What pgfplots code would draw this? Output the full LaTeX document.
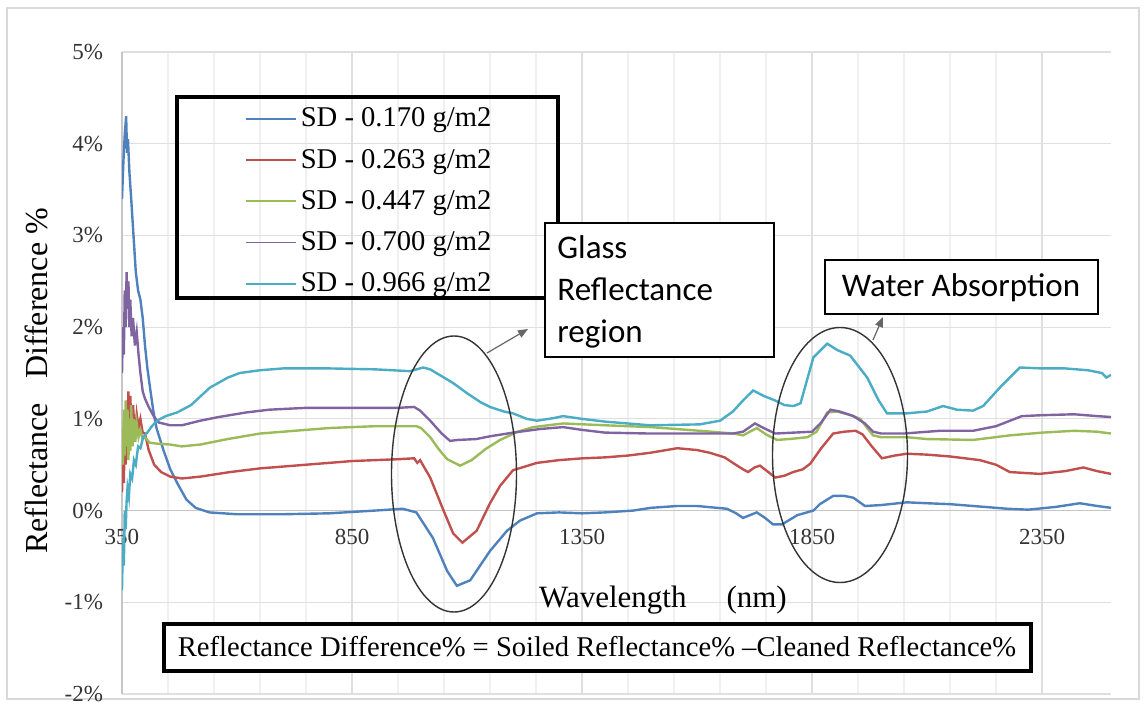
\documentclass[border=0pt]{standalone}
\usepackage{fontspec}
\setmainfont{Liberation Serif}
\newfontfamily\calibri{Carlito}
\usepackage{pgfplots}
\pgfplotsset{compat=1.18}
\usetikzlibrary{arrows.meta}
\definecolor{sBlue}{HTML}{4F81BD}
\definecolor{sRed}{HTML}{C0504D}
\definecolor{sGreen}{HTML}{9BBB59}
\definecolor{sPurple}{HTML}{8064A2}
\definecolor{sCyan}{HTML}{4BACC6}
\begin{document}
\begin{tikzpicture}
\begin{scope}[shift={(-61pt,347pt)}, x=0.5pt, y=-0.5pt]
\path[use as bounding box] (0,0) rectangle (1145,704);
\draw[gray!30, line width=0.6pt] (7,8) rectangle (1139,699);
\end{scope}
\begin{axis}[
  at={(0pt,0pt)}, anchor=south west,
  scale only axis, width=494.5pt, height=321pt,
  xmin=350, xmax=2500, ymin=-2, ymax=5,
  axis x line=middle, axis y line=left,
  axis line style={-, draw=gray!45, line width=0.6pt},
  hide obscured x ticks=false, hide obscured y ticks=false,
  xtick={350,850,1350,1850,2350},
  xticklabels={350,850,1350,1850,2350},
  minor x tick num=4,
  ytick={-2,-1,0,1,2,3,4,5},
  yticklabels={-2\%,-1\%,0\%,1\%,2\%,3\%,4\%,5\%},
  major tick length=0pt, minor tick length=0pt,
  xmajorgrids, xminorgrids, ymajorgrids,
  major grid style={draw=gray!25, line width=0.6pt},
  minor grid style={draw=gray!12, line width=0.6pt},
  /pgf/number format/assume math mode=true,
  tick label style={font=\fontsize{11.5}{13}\selectfont, text=black!80},
  xticklabel style={yshift=-6pt},
  yticklabel style={xshift=-6pt},
  legend style={draw=none, fill=none, at={(0.124,0.92)}, anchor=north west,
    font=\fontsize{14.3}{17}\selectfont, row sep=5.6pt, inner sep=0pt},
  legend cell align=left,
  legend image code/.code={\draw[#1, line width=0.9pt] (0pt,0pt) -- (25pt,0pt);},
]
\addplot[sBlue, line width=1.2pt] coordinates {
(350,3.4)(353,3.8)(356,4.1)(359,4.3)(361,3.9)(363,4.05)(366,3.7)(370,3.4)(375,3.0)(380,2.6)(385,2.4)(390,2.3)(395,2.1)(400,1.8)(405,1.56)(412,1.3)(418,1.09)(425,0.9)(440,0.66)(455,0.45)(470,0.3)(490,0.12)(510,0.03)(540,-0.02)(600,-0.04)(700,-0.04)(800,-0.03)(900,0.0)(960,0.02)(990,-0.02)(1026,-0.3)(1057,-0.66)(1078,-0.82)(1107,-0.76)(1150,-0.44)(1187,-0.22)(1215,-0.11)(1252,-0.03)(1300,-0.02)(1350,-0.03)(1400,-0.02)(1461,0.0)(1500,0.03)(1557,0.05)(1600,0.05)(1665,0.02)(1685,-0.03)(1700,-0.08)(1715,-0.05)(1730,-0.02)(1748,-0.08)(1765,-0.15)(1785,-0.15)(1818,-0.05)(1853,0.0)(1867,0.07)(1896,0.16)(1920,0.16)(1940,0.14)(1965,0.05)(2000,0.06)(2056,0.09)(2100,0.08)(2150,0.07)(2200,0.05)(2250,0.03)(2274,0.02)(2320,0.01)(2380,0.04)(2432,0.08)(2470,0.05)(2500,0.03)
};
\addplot[sRed, line width=1.2pt] coordinates {
(350,0.2)(352,0.6)(354,0.3)(356,0.9)(358,0.5)(360,1.2)(362,0.8)(364,1.3)(366,0.9)(368,1.25)(371,0.85)(374,1.15)(378,0.8)(382,1.05)(386,0.9)(390,1.0)(395,0.85)(400,0.84)(408,0.66)(420,0.5)(435,0.42)(455,0.37)(480,0.35)(520,0.37)(585,0.42)(650,0.46)(750,0.5)(850,0.54)(950,0.56)(985,0.57)(992,0.52)(998,0.55)(1020,0.36)(1049,0.0)(1070,-0.25)(1090,-0.35)(1121,-0.22)(1150,0.08)(1172,0.27)(1200,0.44)(1252,0.52)(1300,0.55)(1352,0.57)(1400,0.58)(1450,0.6)(1498,0.63)(1557,0.68)(1600,0.66)(1628,0.63)(1660,0.58)(1678,0.52)(1700,0.45)(1711,0.42)(1725,0.47)(1737,0.49)(1755,0.42)(1770,0.36)(1790,0.38)(1809,0.42)(1830,0.45)(1846,0.51)(1870,0.68)(1896,0.84)(1920,0.86)(1945,0.87)(1960,0.83)(1980,0.7)(2002,0.57)(2030,0.6)(2056,0.62)(2100,0.61)(2150,0.59)(2215,0.55)(2250,0.5)(2280,0.42)(2345,0.4)(2400,0.43)(2440,0.47)(2470,0.43)(2500,0.4)
};
\addplot[sGreen, line width=1.2pt] coordinates {
(350,0.9)(352,0.5)(354,1.1)(356,0.6)(358,1.2)(360,0.7)(362,1.1)(364,0.55)(366,1.0)(368,0.65)(370,1.15)(373,0.7)(376,1.0)(379,0.75)(382,0.95)(386,0.8)(390,0.88)(395,0.78)(400,0.8)(410,0.74)(426,0.73)(455,0.72)(480,0.7)(520,0.72)(580,0.78)(650,0.84)(700,0.86)(800,0.9)(900,0.92)(990,0.92)(1000,0.9)(1020,0.8)(1040,0.66)(1057,0.56)(1085,0.49)(1110,0.55)(1140,0.67)(1172,0.77)(1210,0.86)(1244,0.91)(1309,0.95)(1400,0.93)(1500,0.91)(1606,0.87)(1680,0.84)(1700,0.82)(1715,0.86)(1730,0.9)(1750,0.83)(1774,0.77)(1800,0.78)(1840,0.8)(1860,0.86)(1883,1.07)(1905,1.08)(1935,1.04)(1955,1.0)(1970,0.9)(1983,0.82)(2000,0.8)(2056,0.8)(2100,0.78)(2200,0.77)(2280,0.82)(2350,0.85)(2420,0.87)(2470,0.86)(2500,0.84)
};
\addplot[sPurple, line width=1.2pt] coordinates {
(350,1.5)(352,2.0)(354,1.7)(356,2.4)(358,2.0)(360,2.6)(362,2.2)(364,2.5)(366,2.0)(368,2.3)(371,1.9)(374,2.1)(378,1.8)(382,1.95)(386,1.7)(390,1.5)(395,1.3)(400,1.22)(408,1.13)(420,1.02)(430,0.96)(455,0.93)(480,0.93)(520,0.98)(560,1.02)(620,1.07)(670,1.1)(750,1.12)(850,1.12)(950,1.12)(985,1.13)(998,1.09)(1020,0.98)(1045,0.84)(1063,0.76)(1080,0.77)(1120,0.78)(1150,0.81)(1200,0.85)(1260,0.89)(1309,0.91)(1350,0.88)(1400,0.85)(1498,0.84)(1600,0.84)(1678,0.84)(1700,0.86)(1726,0.95)(1745,0.9)(1770,0.84)(1810,0.85)(1850,0.86)(1870,0.96)(1890,1.1)(1910,1.08)(1940,1.03)(1965,0.95)(1983,0.86)(2000,0.84)(2050,0.84)(2128,0.87)(2200,0.87)(2250,0.92)(2306,1.03)(2350,1.04)(2420,1.05)(2470,1.03)(2500,1.02)
};
\addplot[sCyan, line width=1.2pt] coordinates {
(350,-0.87)(352,-0.3)(354,-0.6)(356,0.0)(358,-0.2)(360,0.1)(362,0.25)(365,0.15)(368,0.4)(372,0.35)(376,0.55)(380,0.5)(385,0.7)(390,0.68)(396,0.8)(405,0.85)(415,0.92)(426,0.98)(445,1.03)(470,1.07)(500,1.15)(541,1.34)(580,1.45)(606,1.5)(650,1.53)(700,1.55)(800,1.55)(900,1.54)(976,1.52)(1005,1.56)(1020,1.54)(1040,1.48)(1070,1.39)(1100,1.28)(1130,1.18)(1150,1.13)(1180,1.08)(1200,1.06)(1230,1.0)(1252,0.98)(1290,1.01)(1309,1.03)(1350,1.0)(1400,0.97)(1498,0.93)(1606,0.94)(1650,0.98)(1678,1.08)(1700,1.2)(1722,1.31)(1745,1.25)(1770,1.2)(1790,1.15)(1810,1.14)(1825,1.17)(1839,1.42)(1853,1.67)(1883,1.82)(1905,1.75)(1933,1.69)(1970,1.45)(1995,1.2)(2013,1.06)(2056,1.06)(2100,1.08)(2135,1.14)(2165,1.1)(2200,1.09)(2222,1.14)(2260,1.35)(2302,1.56)(2350,1.55)(2400,1.55)(2450,1.53)(2480,1.5)(2490,1.45)(2500,1.48)
};
\legend{SD - 0.170 g/m2, SD - 0.263 g/m2, SD - 0.447 g/m2, SD - 0.700 g/m2, SD - 0.966 g/m2}
\end{axis}
\begin{scope}[shift={(-61pt,347pt)}, x=0.5pt, y=-0.5pt]
\draw[line width=1.75pt] (177,97) rectangle (558,298);
\draw[line width=1pt, fill=white] (545,223) rectangle (774,357);
\node[anchor=west, align=left, inner sep=0pt, font=\calibri\fontsize{16.5}{21}\selectfont] at (557,292) {Glass\\Reflectance\\region};
\draw[line width=1pt, fill=white] (825,260) rectangle (1098,314);
\node[inner sep=0pt, font=\calibri\fontsize{16.5}{20}\selectfont] at (961,288) {Water Absorption};
\draw[black!80, line width=0.7pt] (454,474) ellipse [x radius=62.5, y radius=138];
\draw[black!80, line width=0.7pt] (840,455) ellipse [x radius=67.5, y radius=127.5];
\draw[-{Triangle[length=5pt,width=4pt]}, black!60, line width=0.6pt] (487,353) -- (528,329);
\draw[-{Triangle[length=5pt,width=4pt]}, black!60, line width=0.6pt] (873,340) -- (883,317);
\node[font=\fontsize{15.5}{18}\selectfont] at (663,600) {Wavelength\hspace{20pt}(nm)};
\node[rotate=90, font=\fontsize{16}{18}\selectfont] at (36,381) {Reflectance\hspace{12pt}Difference \%};
\draw[line width=2pt, fill=white] (164,624) rectangle (1031,671);
\node[font=\fontsize{14.3}{16}\selectfont] at (597,647) {Reflectance Difference\% = Soiled Reflectance\% --Cleaned Reflectance\%};
\end{scope}
\end{tikzpicture}
\end{document}
